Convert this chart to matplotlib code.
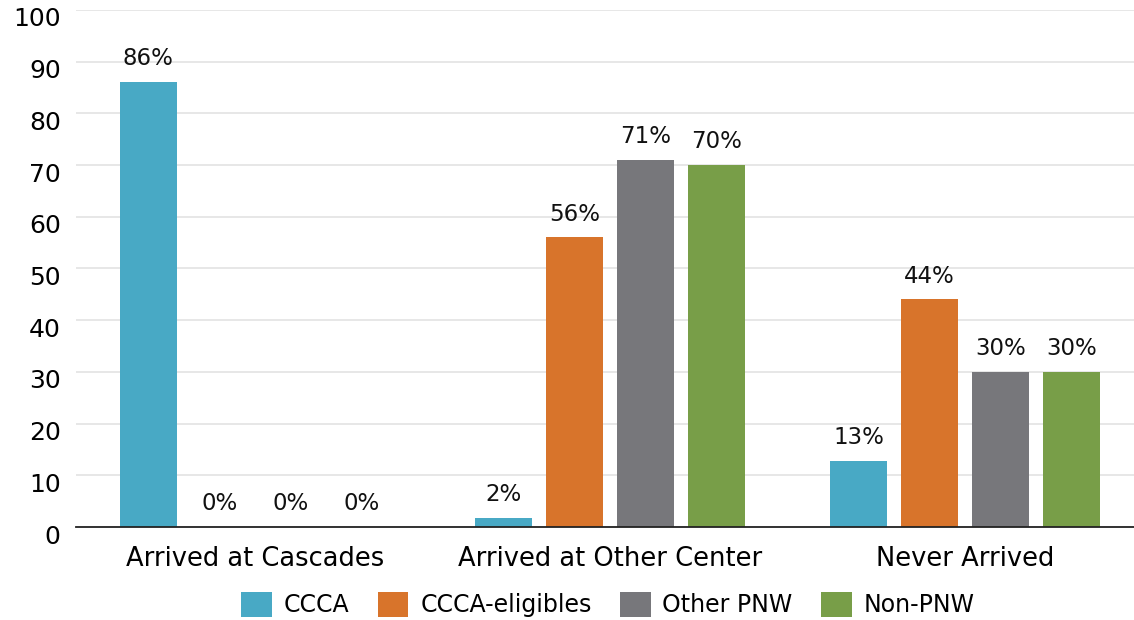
import matplotlib
matplotlib.use("Agg")
import matplotlib.pyplot as plt
import matplotlib.transforms as mtransforms
import numpy as np
from matplotlib.patches import Patch

categories = ["Arrived at Cascades", "Arrived at Other Center", "Never Arrived"]
series_names = ["CCCA", "CCCA-eligibles", "Other PNW", "Non-PNW"]
ccca = [86, 1.7, 12.8]
ccca_eligibles = [0, 56, 44]
other_pnw = [0, 71, 30]
non_pnw = [0, 70, 30]
labels_ccca = ["86%", "2%", "13%"]
labels_elig = ["0%", "56%", "44%"]
labels_other = ["0%", "71%", "30%"]
labels_non = ["0%", "70%", "30%"]
colors = ["#48A9C5", "#D8742B", "#77777B", "#789E48"]
yticks = [0, 10, 20, 30, 40, 50, 60, 70, 80, 90, 100]

plt.rcParams['font.family'] = ['DejaVu Sans']

fig = plt.figure(figsize=(11.34, 6.2), dpi=100)
ax = fig.add_axes([0.067, 0.15, 0.933, 0.834])

x = np.arange(len(categories))
slot = 0.2
width = 0.16
all_vals = [ccca, ccca_eligibles, other_pnw, non_pnw]
all_labels = [labels_ccca, labels_elig, labels_other, labels_non]
for i, (vals, labs) in enumerate(zip(all_vals, all_labels)):
    pos = x + (i - 1.5) * slot
    bars = ax.bar(pos, vals, width=width, color=colors[i], zorder=3)
    for b, lab in zip(bars, labs):
        ax.text(b.get_x() + b.get_width() / 2, b.get_height() + 2.3, lab,
                ha='center', va='bottom', fontsize=16.5, color='#111111')

ax.set_xlim(-0.504, 2.476)
ax.set_ylim(0, 100)
ax.set_yticks(yticks)
ax.set_yticklabels([str(t) for t in yticks], fontsize=18)
ax.set_xticks(x)
ax.set_xticklabels(categories, fontsize=18.5)
ax.tick_params(axis='x', length=0, pad=14)
ax.tick_params(axis='y', length=0, pad=11)
offset = mtransforms.ScaledTranslation(0, -7 / 100, fig.dpi_scale_trans)
for lbl in ax.get_yticklabels():
    lbl.set_transform(lbl.get_transform() + offset)
ax.grid(axis='y', color='#E3E3E3', linewidth=1.2, zorder=0)
for s in ['left', 'right', 'top']:
    ax.spines[s].set_visible(False)
ax.spines['bottom'].set_color('#222222')
ax.spines['bottom'].set_linewidth(1.3)
ax.spines['bottom'].set_zorder(4)

handles = [Patch(facecolor=c, edgecolor='none') for c in colors]
fig.legend(handles, series_names, loc='center', bbox_to_anchor=(0.536, 0.025),
           ncol=4, frameon=False, fontsize=17, handlelength=1.3, handleheight=1.3,
           handletextpad=0.5, columnspacing=1.2)

fig.savefig("out.png", dpi=100)
